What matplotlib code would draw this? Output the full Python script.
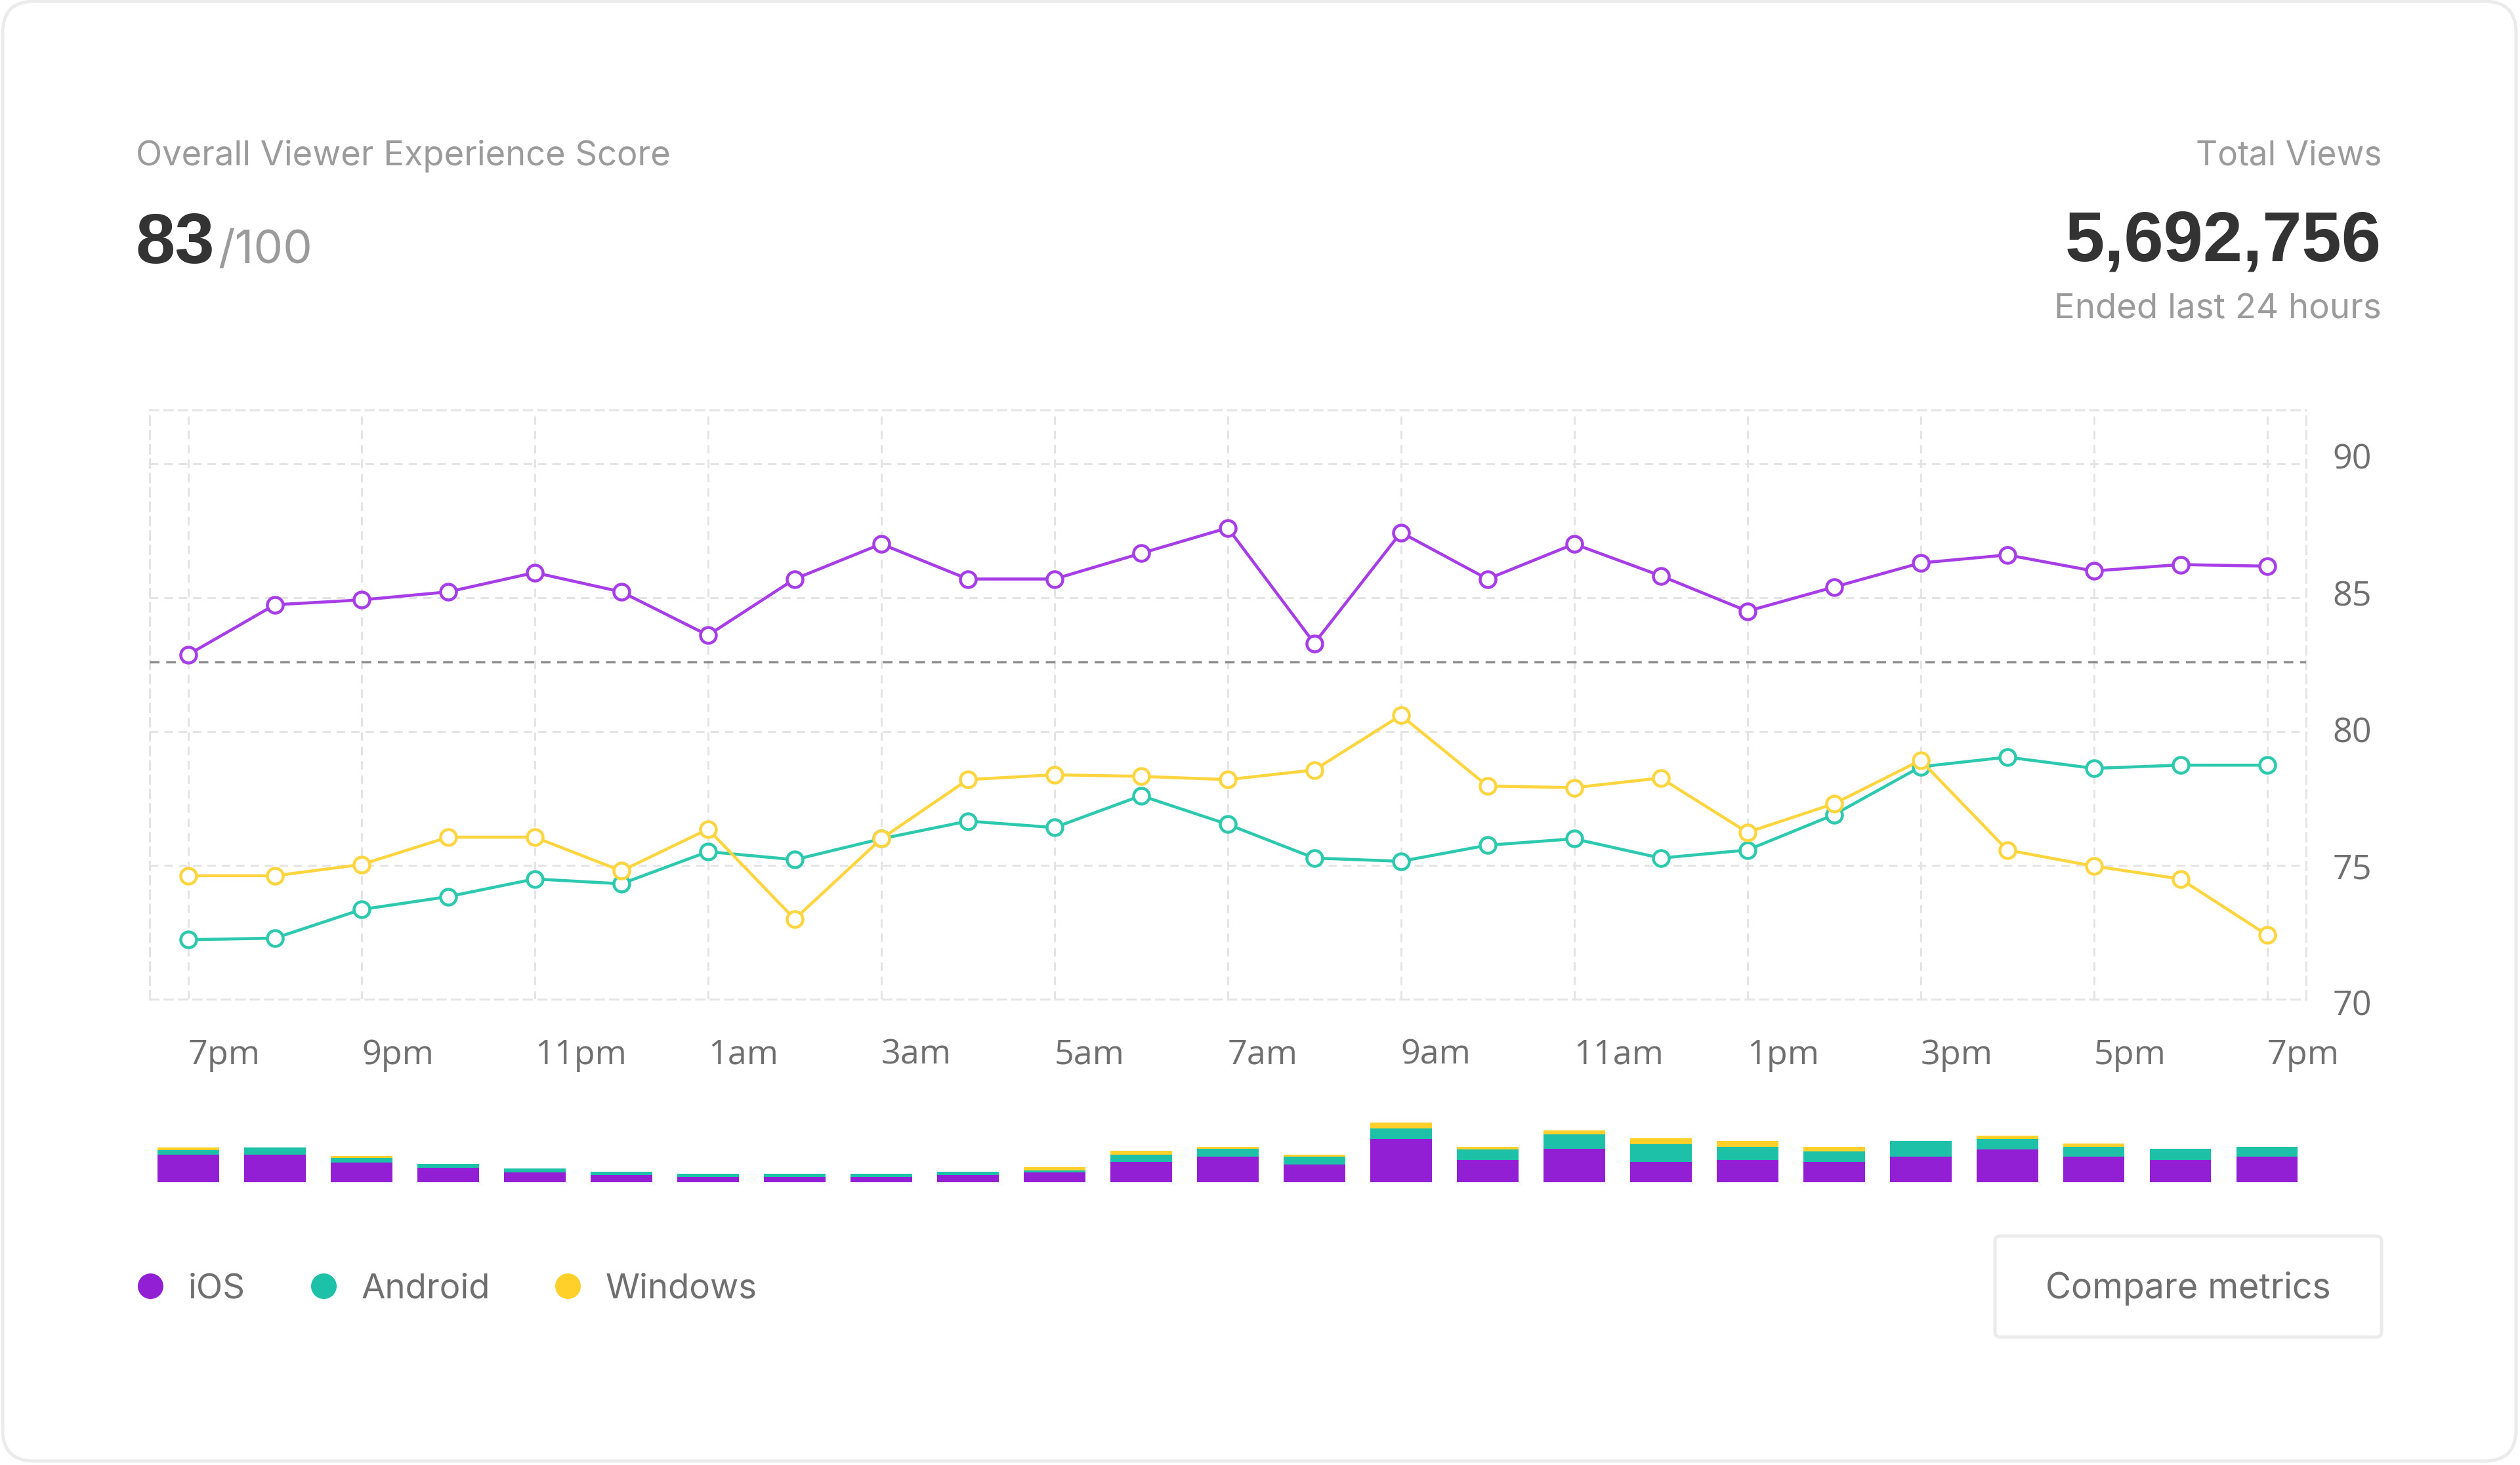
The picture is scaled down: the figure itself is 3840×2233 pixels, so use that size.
import matplotlib
matplotlib.use("Agg")
import matplotlib.pyplot as plt
from matplotlib.lines import Line2D
from matplotlib.patches import FancyBboxPatch

# Hourly scores, 7pm to 7pm
hours = list(range(25))
ios = [82.87, 84.73, 84.91, 85.21, 85.93, 85.21, 83.59, 85.69, 87.0, 85.69, 85.69, 86.65, 87.6,
       83.29, 87.43, 85.69, 87.0, 85.81, 84.49, 85.39, 86.29, 86.59, 85.99, 86.23, 86.17]
android = [72.22, 72.28, 73.35, 73.83, 74.49, 74.31, 75.51, 75.21, 75.99, 76.65, 76.41, 77.6, 76.53,
           75.27, 75.15, 75.75, 75.99, 75.27, 75.57, 76.89, 78.68, 79.04, 78.62, 78.74, 78.74]
windows = [74.61, 74.61, 75.03, 76.05, 76.05, 74.79, 76.35, 72.99, 75.99, 78.2, 78.38, 78.32, 78.2,
           78.56, 80.6, 77.96, 77.9, 78.26, 76.23, 77.3, 78.92, 75.57, 74.97, 74.49, 72.4]
overall_score = 82.6

# Views per hour, stacked (relative height)
ios_views = [42, 42, 30, 22, 14.7, 11, 7.7, 7.7, 7.7, 11, 15, 30.7, 39,
             27, 66.3, 34, 50.7, 31, 34, 30.7, 39, 50.3, 38.7, 34, 38.7]
android_views = [7, 10.7, 7, 6, 6.3, 5, 5, 5, 5, 5, 3, 11.3, 11.7,
                 12, 15.4, 16, 22.3, 26.7, 20.3, 16.3, 24, 15.7, 15.3, 17, 15.3]
windows_views = [3.7, 0, 3, 0, 0, 0, 0, 0, 0, 0, 5, 5.7, 3.3,
                 3, 9, 4, 6, 9, 8.7, 7, 0, 4.7, 5.5, 0, 0]

hour_ticks = list(range(0, 25, 2))
hour_labels = ["7pm", "9pm", "11pm", "1am", "3am", "5am", "7am", "9am", "11am", "1pm", "3pm", "5pm", "7pm"]
score_ticks = [70, 75, 80, 85, 90]

PURPLE = "#931FD4"
TEAL = "#1CC1A8"
YELLOW = "#FFD02A"
LINE_PURPLE = "#A63DE6"
LINE_TEAL = "#2CC9AF"
LINE_YELLOW = "#FFD53F"
GRID = "#E4E4E4"
DARK = "#333333"
MID = "#6F6F6F"
LIGHT = "#9B9B9B"

W, H = 3840, 2233
PT = 72 / 100  # one pixel in points at dpi 100

plt.rcParams["font.family"] = ["Inter", "DejaVu Sans"]

fig = plt.figure(figsize=(W / 100, H / 100), dpi=100, facecolor="white")


def axes_px(left, top, right, bottom):
    return fig.add_axes([left / W, 1 - bottom / H, (right - left) / W, (bottom - top) / H])


# Card, header text and button in pixel coordinates
bg = axes_px(0, 0, W, H)
bg.set_xlim(0, W)
bg.set_ylim(H, 0)
bg.axis("off")
bg.add_patch(FancyBboxPatch((4, 2), W - 10, H - 8, boxstyle="round,pad=0,rounding_size=48",
                            facecolor="white", edgecolor="#EBEBEB", linewidth=5 * PT))
bg.add_patch(FancyBboxPatch((3040, 1884), 589, 154, boxstyle="round,pad=0,rounding_size=8",
                            facecolor="white", edgecolor="#EBEBEB", linewidth=5 * PT))
bg.text(207, 252, "Overall Viewer Experience Score", fontsize=37.8, color=LIGHT)
bg.text(207, 401, "83", fontsize=78, color=DARK, fontweight="bold", family="Liberation Sans")
bg.text(332, 401, "/100", fontsize=51, color=LIGHT)
bg.text(3629, 252, "Total Views", fontsize=37, color=LIGHT, ha="right")
bg.text(3629, 398, "5,692,756", fontsize=78, color=DARK, fontweight="bold", family="Liberation Sans", ha="right")
bg.text(3629, 485, "Ended last 24 hours", fontsize=38, color=LIGHT, ha="right")
bg.text(3334, 1964, "Compare metrics", fontsize=38.5, color=MID, ha="center", va="center")

# Score lines
ax = axes_px(228, 625, 3514, 1523)
ax.patch.set_alpha(0)
dash = (0, (4.3, 3))
for series, color in [(ios, LINE_PURPLE), (android, LINE_TEAL), (windows, LINE_YELLOW)]:
    ax.plot(hours, series, color=color, linewidth=4.6 * PT, marker="o", markersize=24 * PT,
            markerfacecolor="white", markeredgecolor=color, markeredgewidth=4.5 * PT, zorder=4)
ax.axhline(overall_score, color="#8C8C8C", linewidth=3.4 * PT, linestyle=dash, zorder=3)
ax.set_xlim(-0.447, 24.45)
ax.set_ylim(70, 92)
ax.set_xticks(hour_ticks)
ax.set_xticklabels(hour_labels, ha="left", fontsize=37.5, color=MID, family="Open Sans")
ax.set_yticks(score_ticks)
ax.tick_params(axis="x", length=0, pad=43)
ax.tick_params(axis="y", length=0, labelleft=False)
ax.grid(True, color=GRID, linewidth=3 * PT, linestyle=dash, zorder=0)
ax.set_axisbelow(True)
for spine in ax.spines.values():
    spine.set_color(GRID)
    spine.set_linewidth(3 * PT)
    spine.set_linestyle(dash)

# Score labels sit on a slightly wider scale than the grid, so they get their own axes
ax_labels = axes_px(228, 625, 3514, 1560)
ax_labels.patch.set_alpha(0)
ax_labels.xaxis.set_visible(False)
ax_labels.yaxis.tick_right()
ax_labels.set_yticks(score_ticks)
ax_labels.set_ylim(69.23, 91.69)
ax_labels.set_yticklabels([str(t) for t in score_ticks], family="Open Sans")
ax_labels.tick_params(axis="y", length=0, pad=29, labelsize=37.5, labelcolor=MID)
for spine in ax_labels.spines.values():
    spine.set_visible(False)

# Stacked views bars
ax_bars = axes_px(228, 1702, 3514, 1802)
ax_bars.patch.set_alpha(0)
bar_width = 0.71
bottom = [0] * len(hours)
for series, color in [(ios_views, PURPLE), (android_views, TEAL), (windows_views, YELLOW)]:
    ax_bars.bar(hours, series, width=bar_width, bottom=bottom, color=color, linewidth=0)
    bottom = [b + v for b, v in zip(bottom, series)]
ax_bars.set_xlim(-0.447, 24.45)
ax_bars.set_ylim(0, 100)
ax_bars.axis("off")

handles = [Line2D([], [], linestyle="none", marker="o", markersize=39 * PT, color=c, markeredgewidth=0)
           for c in (PURPLE, TEAL, YELLOW)]
fig.legend(handles, ["iOS", "Android", "Windows"], ncol=3, loc="center left",
           bbox_to_anchor=(203 / W, 1 - 1965 / H), frameon=False, fontsize=38, labelcolor=MID,
           handlelength=1, handletextpad=0.59, columnspacing=1.75, borderpad=0, borderaxespad=0)

fig.savefig("out.png", dpi=100, facecolor="white")
